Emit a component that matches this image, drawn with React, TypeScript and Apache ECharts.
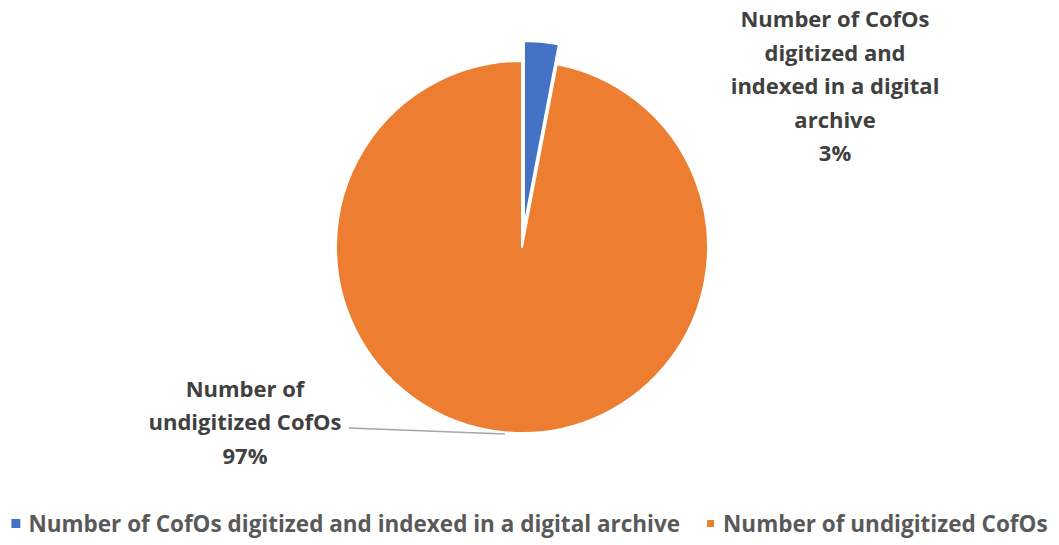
import React, { useEffect, useRef } from "react";
import * as echarts from "echarts";

const categories = [
  "Number of CofOs digitized and indexed in a digital archive",
  "Number of undigitized CofOs",
];
const labelTexts = [
  "Number of CofOs\ndigitized and\nindexed in a digital\narchive",
  "Number of\nundigitized CofOs",
];
const values = [3, 97];
const colors = ["#4472C4", "#ED7D31"];
const explodedIndex = 0;

export default function App() {
  const ref = useRef<HTMLDivElement>(null);
  useEffect(() => {
    if (!ref.current) return;
    const chart = echarts.init(ref.current, undefined, { renderer: "svg" });
    const font = "'Open Sans', sans-serif";
    const labelBase = {
      show: true,
      position: "outside",
      fontFamily: font,
      fontSize: 22,
      fontWeight: "bold",
      lineHeight: 33.5,
      color: "#404040",
      align: "center",
      formatter: (p: any) => `${labelTexts[p.dataIndex]}\n${p.percent.toFixed(0)}%`,
    };
    const makeData = (exploded: boolean) =>
      categories.map((name, i) => {
        const visible = exploded ? i === explodedIndex : i !== explodedIndex;
        return {
          name,
          value: values[i],
          itemStyle: visible
            ? { color: colors[i], borderColor: "#ffffff", borderWidth: 2 }
            : { color: "rgba(0,0,0,0)", borderWidth: 0 },
          label: { show: visible },
          labelLine: { show: visible && !exploded },
        };
      });
    chart.setOption({
      animation: false,
      backgroundColor: "#ffffff",
      legend: {
        bottom: 5,
        left: "center",
        icon: "rect",
        itemWidth: 9,
        itemHeight: 9,
        itemGap: 25,
        textStyle: {
          fontFamily: font,
          fontSize: 22.5,
          fontWeight: "bold",
          color: "#595959",
          padding: [0, 0, 0, 3],
        },
        data: categories.map((name, i) => ({ name, itemStyle: { color: colors[i] } })),
      },
      series: [
        {
          type: "pie",
          center: [522, 247],
          radius: 186,
          startAngle: 90,
          clockwise: true,
          silent: true,
          label: labelBase,
          labelLine: { show: true, lineStyle: { color: "#A6A6A6", width: 1.5 } },
          labelLayout: () => ({
            x: 245,
            y: 421,
            align: "center",
            verticalAlign: "middle",
            labelLinePoints: [[349, 428], [427, 431], [505, 434]],
          }),
          data: makeData(false),
        },
        {
          type: "pie",
          center: [524, 227],
          radius: 186,
          startAngle: 90,
          clockwise: true,
          silent: true,
          label: labelBase,
          labelLine: { show: false },
          labelLayout: () => ({ x: 835, y: 85, align: "center", verticalAlign: "middle" }),
          data: makeData(true),
        },
      ],
    });
    return () => chart.dispose();
  }, []);
  return <div ref={ref} style={{ position: "fixed", left: 0, top: 0, width: 1059, height: 545 }} />;
}
